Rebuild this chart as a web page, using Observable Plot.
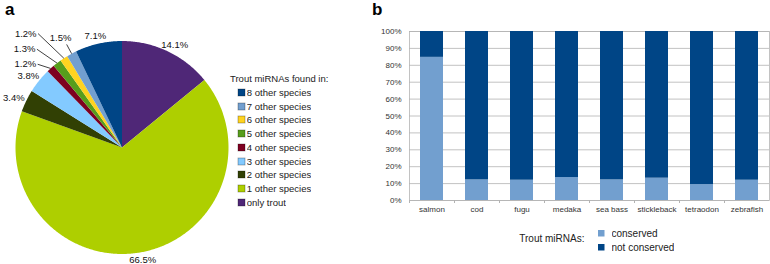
<!DOCTYPE html>
<html><head><meta charset="utf-8">
<script src="https://cdn.jsdelivr.net/npm/d3@7"></script>
<script src="https://cdn.jsdelivr.net/npm/@observablehq/plot@0.6"></script>
<style>
body{margin:0;background:#fff;font-family:"Liberation Sans",Arial,sans-serif;}
#wrap{position:relative;width:770px;height:264px;overflow:hidden;background:#fff;}
.abs{position:absolute;}
.panel{font-weight:bold;font-size:17px;line-height:17px;color:#000;}
.ttl{white-space:nowrap;color:#222;}
#pieLegend .pieleg-swatches{font-family:"Liberation Sans",Arial,sans-serif;font-size:9.5px;margin:0;color:#222;}
#pieLegend .pieleg-swatch{height:13.75px;padding:0;display:flex;align-items:center;}
#pieLegend .pieleg-swatch > svg{margin-right:1.5px;}
#pieLegend svg rect{stroke:rgba(0,0,0,0.35);stroke-width:0.8px;}
#barLegend .barleg-swatches{font-family:"Liberation Sans",Arial,sans-serif;font-size:10px;margin:0;color:#222;}
#barLegend .barleg-swatch{height:14.4px;padding:0;display:flex;align-items:center;}
#barLegend .barleg-swatch > svg{margin-right:7px;}
</style></head><body><div id="wrap"></div>
<script>
// ---- Panel a: pie data (clockwise from 12 o'clock) ----
const pieCategories = ["only trout","1 other species","2 other species","3 other species","4 other species","5 other species","6 other species","7 other species","8 other species"];
const pieValues = [14.1, 66.5, 3.4, 3.8, 1.2, 1.3, 1.2, 1.5, 7.1];
const pieLabels = ["14.1%","66.5%","3.4%","3.8%","1.2%","1.3%","1.2%","1.5%","7.1%"];
// legend order (top to bottom)
const legendCategories = ["8 other species","7 other species","6 other species","5 other species","4 other species","3 other species","2 other species","1 other species","only trout"];
const legendColors = ["#004586","#729fcf","#ffd320","#579d1c","#7e0021","#83caff","#314004","#aecf00","#4f2777"];
const pieTitle = "Trout miRNAs found in:";

// ---- Panel b: stacked bars ----
const species = ["salmon","cod","fugu","medaka","sea bass","stickleback","tetraodon","zebrafish"];
const conserved = [84.7, 12.2, 12.0, 13.6, 12.2, 13.2, 9.4, 12.0];
const notConserved = [15.3, 87.8, 88.0, 86.4, 87.8, 86.8, 90.6, 88.0];
const statusLabels = ["conserved","not conserved"];
const statusColors = ["#729fcf","#004586"];
const yTicks = [0,10,20,30,40,50,60,70,80,90,100];
const yTickLabels = ["0%","10%","20%","30%","40%","50%","60%","70%","80%","90%","100%"];
const barTitle = "Trout miRNAs:";

const FONT = '"Liberation Sans", Arial, sans-serif';
const wrap = document.getElementById("wrap");

// ----- Pie -----
const PW = 372, PH = 264, cx = 121.5, cy = 147, r = 106.5;
const pieData = pieCategories.map((c, i) => ({cat: c, value: pieValues[i], label: pieLabels[i]}));
const arcs = d3.pie().sort(null).value(d => d.value)(pieData);
const polar = (R, a) => ({x: cx + R * Math.sin(a), y: cy - R * Math.cos(a)});

const slicePts = [];
for (const a of arcs) {
  slicePts.push({cat: a.data.cat, x: cx, y: cy});
  const n = Math.max(2, Math.ceil((a.endAngle - a.startAngle) / 0.01));
  for (let k = 0; k <= n; k++) {
    const t = a.startAngle + (a.endAngle - a.startAngle) * k / n;
    const p = polar(r, t);
    slicePts.push({cat: a.data.cat, x: p.x, y: p.y});
  }
}

const ctx = document.createElement("canvas").getContext("2d");
ctx.font = `9.5px ${FONT}`;
const deg = Math.PI / 180;
const bigLabels = [], leftLabels = [], topLabels = [], leaders = [];
let k = 0;
for (const a of arcs) {
  const mid = (a.startAngle + a.endAngle) / 2;
  if (a.data.value >= 2) {
    const p = polar(r + 3, mid);
    const w = ctx.measureText(a.data.label).width, h = 9;
    bigLabels.push({label: a.data.label, x: p.x + w / 2 * Math.sin(mid), y: p.y - h / 2 * Math.cos(mid)});
  } else if (mid < 330 * deg) {
    const s = polar(r, mid);
    const e = polar(r + 12 + 11.5 * k, mid - 3.3 * deg);
    k++;
    leaders.push({x1: s.x, y1: s.y, x2: e.x, y2: e.y});
    leftLabels.push({label: a.data.label, x: e.x - 1.5, y: e.y});
  } else {
    const s = polar(r, mid);
    const e = polar(r + 10.5, mid);
    leaders.push({x1: s.x, y1: s.y, x2: e.x, y2: e.y});
    topLabels.push({label: a.data.label, x: e.x - 6, y: e.y - 3});
  }
}

const pie = Plot.plot({
  width: PW, height: PH, margin: 0,
  style: {fontFamily: FONT, fontSize: "9.5px", background: "transparent"},
  x: {type: "linear", domain: [0, PW], range: [0, PW], axis: null},
  y: {type: "linear", domain: [0, PH], range: [0, PH], axis: null},
  color: {domain: legendCategories, range: legendColors},
  marks: [
    Plot.line(slicePts, {x: "x", y: "y", z: "cat", fill: "cat", stroke: "none", curve: "linear-closed"}),
    Plot.link(leaders, {x1: "x1", y1: "y1", x2: "x2", y2: "y2", stroke: "#111", strokeWidth: 0.8}),
    Plot.text(bigLabels, {x: "x", y: "y", text: "label", textAnchor: "middle", lineAnchor: "middle", fill: "#111"}),
    Plot.text(leftLabels, {x: "x", y: "y", text: "label", textAnchor: "end", lineAnchor: "middle", fill: "#111"}),
    Plot.text(topLabels, {x: "x", y: "y", text: "label", textAnchor: "middle", lineAnchor: "bottom", fill: "#111"})
  ]
});
pie.classList.add("abs");
pie.style.left = "0px"; pie.style.top = "0px";
wrap.appendChild(pie);

// ----- Bars -----
const BW = 390, mL = 29, mR = 1;
const step = (BW - mL - mR) / species.length;
const table = [];
species.forEach((s, i) => table.push({species: s, status: statusLabels[0], value: conserved[i]}));
species.forEach((s, i) => table.push({species: s, status: statusLabels[1], value: notConserved[i]}));

const bars = Plot.plot({
  width: BW, height: 264, marginLeft: mL, marginRight: mR, marginTop: 31, marginBottom: 64,
  style: {fontFamily: FONT, fontSize: "8px", background: "transparent"},
  x: {domain: species, paddingInner: 0.5, paddingOuter: 0.25, label: null, axis: null},
  y: {domain: [0, 100], label: null, axis: null},
  color: {domain: statusLabels, range: statusColors},
  marks: [
    Plot.gridY(yTicks, {stroke: "#b3b3b3", strokeOpacity: 1, strokeWidth: 0.8}),
    Plot.frame({stroke: "#b3b3b3", strokeWidth: 0.8}),
    Plot.barY(table, {x: "species", y: "value", fill: "status"}),
    Plot.axisY(yTicks, {tickSize: 0, tickPadding: 8, tickFormat: d => yTickLabels[yTicks.indexOf(d)], fill: "#333", label: null}),
    Plot.axisX({tickSize: 0, tickPadding: 6, fill: "#333", label: null}),
    Plot.axisX({tickSize: 3, tickFormat: () => "", dx: -step / 2, stroke: "#b3b3b3", label: null})
  ]
});
bars.classList.add("abs");
bars.style.left = "380px"; bars.style.top = "0px";
wrap.appendChild(bars);

// ----- Panel letters -----
const la = document.createElement("div"); la.className = "abs panel"; la.textContent = "a";
la.style.left = "5px"; la.style.top = "1px"; wrap.appendChild(la);
const lb = document.createElement("div"); lb.className = "abs panel"; lb.textContent = "b";
lb.style.left = "372px"; lb.style.top = "1px"; wrap.appendChild(lb);

// ----- Pie legend -----
const pt = document.createElement("div"); pt.className = "abs ttl";
pt.style.cssText += "left:230px;top:72.5px;font-size:9.5px;line-height:11px;";
pt.textContent = pieTitle; wrap.appendChild(pt);
const pl = document.createElement("div"); pl.id = "pieLegend"; pl.className = "abs";
pl.style.left = "238.3px"; pl.style.top = "85.4px";
pl.appendChild(Plot.legend({color: {domain: legendCategories, range: legendColors}, legend: "swatches", columns: 1, swatchSize: 7, className: "pieleg"}));
wrap.appendChild(pl);

// ----- Bar legend -----
const bt = document.createElement("div"); bt.className = "abs ttl";
bt.style.cssText += "left:519.3px;top:233px;font-size:10px;line-height:12px;";
bt.textContent = barTitle; wrap.appendChild(bt);
const bl = document.createElement("div"); bl.id = "barLegend"; bl.className = "abs";
bl.style.left = "598px"; bl.style.top = "226.1px";
bl.appendChild(Plot.legend({color: {domain: statusLabels, range: statusColors}, legend: "swatches", columns: 1, swatchSize: 6.5, className: "barleg"}));
wrap.appendChild(bl);
</script></body></html>
